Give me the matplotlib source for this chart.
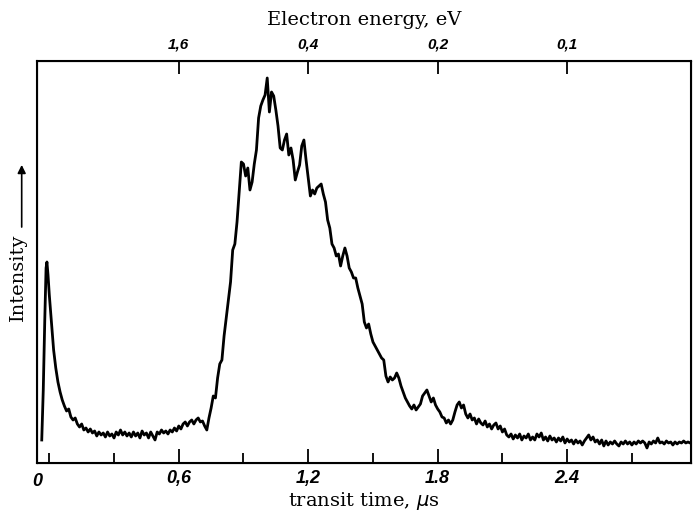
import numpy as np
import matplotlib
matplotlib.use('Agg')
import matplotlib.pyplot as plt

# Transit time (us) and intensity (arb. units)
spike_time = [-0.035, -0.028, -0.021, -0.015, -0.011, -0.006]
spike_int = [23, 73, 143, 195, 201, 188]

time_us = [
    0.00, 0.01, 0.02, 0.03, 0.04, 0.05, 0.06, 0.07, 0.08, 0.09,
    0.10, 0.11, 0.12, 0.13, 0.14, 0.15, 0.16, 0.17, 0.18, 0.19,
    0.20, 0.21, 0.22, 0.23, 0.24, 0.25, 0.26, 0.27, 0.28, 0.29,
    0.30, 0.31, 0.32, 0.33, 0.34, 0.35, 0.36, 0.37, 0.38, 0.39,
    0.40, 0.41, 0.42, 0.43, 0.44, 0.45, 0.46, 0.47, 0.48, 0.49,
    0.50, 0.51, 0.52, 0.53, 0.54, 0.55, 0.56, 0.57, 0.58, 0.59,
    0.60, 0.61, 0.62, 0.63, 0.64, 0.65, 0.66, 0.67, 0.68, 0.69,
    0.70, 0.71, 0.72, 0.73, 0.74, 0.75, 0.76, 0.77, 0.78, 0.79,
    0.80, 0.81, 0.82, 0.83, 0.84, 0.85, 0.86, 0.87, 0.88, 0.89,
    0.90, 0.91, 0.92, 0.93, 0.94, 0.95, 0.96, 0.97, 0.98, 0.99,
    1.00, 1.01, 1.02, 1.03, 1.04, 1.05, 1.06, 1.07, 1.08, 1.09,
    1.10, 1.11, 1.12, 1.13, 1.14, 1.15, 1.16, 1.17, 1.18, 1.19,
    1.20, 1.21, 1.22, 1.23, 1.24, 1.25, 1.26, 1.27, 1.28, 1.29,
    1.30, 1.31, 1.32, 1.33, 1.34, 1.35, 1.36, 1.37, 1.38, 1.39,
    1.40, 1.41, 1.42, 1.43, 1.44, 1.45, 1.46, 1.47, 1.48, 1.49,
    1.50, 1.51, 1.52, 1.53, 1.54, 1.55, 1.56, 1.57, 1.58, 1.59,
    1.60, 1.61, 1.62, 1.63, 1.64, 1.65, 1.66, 1.67, 1.68, 1.69,
    1.70, 1.71, 1.72, 1.73, 1.74, 1.75, 1.76, 1.77, 1.78, 1.79,
    1.80, 1.81, 1.82, 1.83, 1.84, 1.85, 1.86, 1.87, 1.88, 1.89,
    1.90, 1.91, 1.92, 1.93, 1.94, 1.95, 1.96, 1.97, 1.98, 1.99,
    2.00, 2.01, 2.02, 2.03, 2.04, 2.05, 2.06, 2.07, 2.08, 2.09,
    2.10, 2.11, 2.12, 2.13, 2.14, 2.15, 2.16, 2.17, 2.18, 2.19,
    2.20, 2.21, 2.22, 2.23, 2.24, 2.25, 2.26, 2.27, 2.28, 2.29,
    2.30, 2.31, 2.32, 2.33, 2.34, 2.35, 2.36, 2.37, 2.38, 2.39,
    2.40, 2.41, 2.42, 2.43, 2.44, 2.45, 2.46, 2.47, 2.48, 2.49,
    2.50, 2.51, 2.52, 2.53, 2.54, 2.55, 2.56, 2.57, 2.58, 2.59,
    2.60, 2.61, 2.62, 2.63, 2.64, 2.65, 2.66, 2.67, 2.68, 2.69,
    2.70, 2.71, 2.72, 2.73, 2.74, 2.75, 2.76, 2.77, 2.78, 2.79,
    2.80, 2.81, 2.82, 2.83, 2.84, 2.85, 2.86, 2.87, 2.88, 2.89,
    2.90, 2.91, 2.92, 2.93, 2.94, 2.95, 2.96, 2.97,
]
intensity = [
    168, 141, 113, 95, 81, 71, 63, 57, 52, 54,
    46, 43, 45, 39, 36, 39, 33, 35, 31, 34,
    30, 32, 27, 31, 28, 30, 26, 31, 27, 29,
    25, 31, 28, 33, 28, 31, 27, 30, 26, 31,
    27, 30, 25, 32, 28, 30, 25, 31, 27, 23,
    31, 29, 33, 30, 32, 29, 33, 31, 35, 32,
    37, 34, 39, 41, 37, 41, 43, 39, 43, 45,
    41, 42, 37, 33, 45, 55, 67, 65, 85, 99,
    103, 127, 145, 163, 181, 213, 219, 241, 271, 301,
    299, 287, 295, 273, 281, 299, 313, 345, 357, 363,
    368, 385, 351, 371, 367, 353, 337, 315, 313, 323,
    329, 308, 315, 303, 283, 291, 298, 317, 323, 303,
    285, 267, 273, 269, 275, 277, 279, 269, 261, 243,
    235, 219, 215, 207, 209, 197, 207, 215, 207, 195,
    191, 185, 185, 175, 167, 159, 141, 135, 139, 129,
    121, 117, 113, 109, 105, 103, 87, 81, 86, 83,
    85, 90, 85, 77, 71, 65, 61, 57, 54, 58,
    53, 56, 59, 67, 70, 73, 67, 61, 65, 58,
    54, 51, 46, 45, 40, 43, 39, 43, 51, 58,
    61, 55, 58, 49, 45, 49, 43, 45, 39, 44,
    40, 38, 42, 36, 39, 34, 38, 40, 34, 37,
    31, 34, 28, 26, 29, 24, 28, 25, 29, 23,
    27, 25, 29, 23, 26, 23, 29, 26, 30, 23,
    26, 22, 27, 23, 25, 21, 25, 22, 26, 20,
    24, 21, 23, 19, 23, 20, 22, 18, 22, 25,
    28, 23, 26, 21, 23, 19, 23, 17, 22, 18,
    21, 19, 22, 19, 17, 21, 19, 22, 19, 21,
    18, 21, 19, 22, 20, 22, 20, 15, 21, 19,
    22, 20, 25, 20, 21, 19, 22, 20, 21, 18,
    21, 19, 21, 20, 22, 20, 21, 20,
]

bottom_ticks = [0.6, 1.2, 1.8, 2.4]
bottom_labels = ['0,6', '1,2', '1.8', '2.4']
bottom_minor = [0.0, 0.3, 0.9, 1.5, 2.1, 2.7]
top_labels = ['1,6', '0,4', '0,2', '0,1']

t = spike_time + time_us
y = spike_int + intensity

fig = plt.figure(figsize=(6.93, 5.13), dpi=100)
ax = fig.add_axes([0.0534, 0.0975, 0.9437, 0.7836])
ax.plot(t, y, color='black', lw=2.0)
ax.set_xlim(-0.057, 2.974)
ax.set_ylim(0, 402)

for s in ax.spines.values():
    s.set_linewidth(1.5)

tick_font = dict(family='Liberation Sans', style='italic', weight='bold', size=13)
ax.set_xticks(bottom_ticks)
ax.set_xticklabels(bottom_labels, fontdict=tick_font)
ax.set_xticks(bottom_minor, minor=True)
ax.set_yticks([])
ax.tick_params(axis='x', which='major', direction='in', length=10, width=1.3, pad=5)
ax.tick_params(axis='x', which='minor', direction='in', length=7, width=1.3)
ax.text(-0.057, -0.025, '0', transform=ax.get_xaxis_transform(),
        ha='center', va='top', **tick_font)
ax.set_xlabel('transit time, $\\mu$s', family='DejaVu Serif', size=14, labelpad=2)

top = ax.twiny()
top.set_xlim(ax.get_xlim())
top.set_xticks(bottom_ticks)
top.set_xticklabels(top_labels, fontdict=dict(family='Liberation Sans', style='italic',
                                              weight='bold', size=11))
top.tick_params(axis='x', direction='in', length=9, width=1.3, pad=7)
top.set_xlabel('Electron energy, eV', family='DejaVu Serif', size=14, labelpad=9)

fig.text(0.026, 0.46, 'Intensity', rotation=90, ha='center', va='center',
         family='DejaVu Serif', size=14)
ax.annotate('', xy=(0.0313, 0.684), xytext=(0.0313, 0.552), xycoords='figure fraction',
            textcoords='figure fraction',
            arrowprops=dict(arrowstyle='-|>', lw=1.2, color='black', mutation_scale=12))

fig.savefig('out.png', dpi=100)
